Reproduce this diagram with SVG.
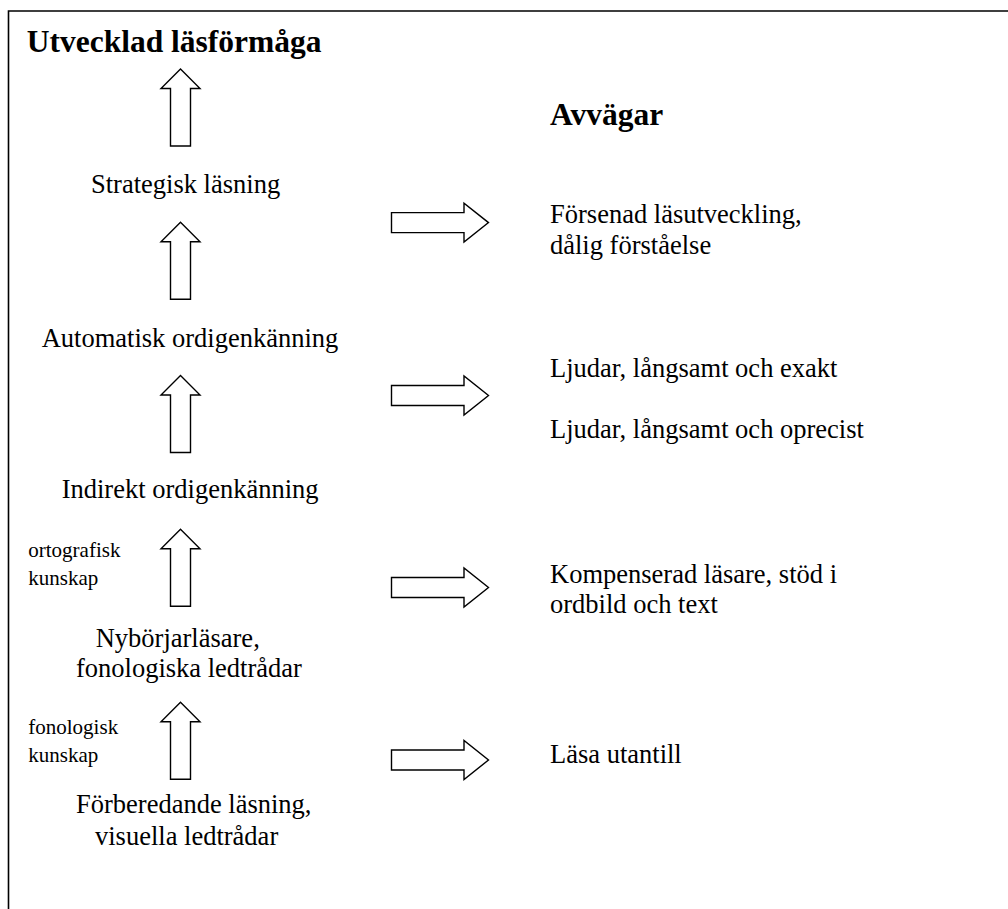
<svg xmlns="http://www.w3.org/2000/svg" width="1008" height="909" viewBox="0 0 1008 909">
<defs>
<style>
.t{font-family:"Liberation Serif","Times New Roman",serif;font-size:26.5px;fill:#000}
.b{font-family:"Liberation Serif","Times New Roman",serif;font-size:31.5px;font-weight:bold;fill:#000}
.s{font-family:"Liberation Serif","Times New Roman",serif;font-size:21px;fill:#000}
.ar{fill:#fff;stroke:#000;stroke-width:1.4;stroke-linejoin:miter}
</style>
<path id="up" d="M0 0 L19.5 19.5 L10 19.5 L10 77 L-10 77 L-10 19.5 L-19.5 19.5 Z"/>
<path id="rt" d="M0 -10 L72.5 -10 L72.5 -19.5 L97 0 L72.5 19.5 L72.5 10 L0 10 Z"/>
</defs>
<rect width="1008" height="909" fill="#fff"/>
<path d="M8.5 909 V11 H1008" fill="none" stroke="#000" stroke-width="1.6"/>
<g id="connectors">
<use href="#up" class="ar" x="180.5" y="69"/>
<use href="#up" class="ar" x="180.5" y="222.3"/>
<use href="#up" class="ar" x="180.5" y="375.5"/>
<use href="#up" class="ar" x="180.5" y="529.3"/>
<use href="#up" class="ar" x="180.5" y="702.3"/>
<use href="#rt" class="ar" x="391.5" y="222.6"/>
<use href="#rt" class="ar" x="391.5" y="395.5"/>
<use href="#rt" class="ar" x="391.5" y="587.5"/>
<use href="#rt" class="ar" x="391.5" y="760"/>
</g>
<g id="title"><text class="b" x="26.7" y="52">Utvecklad läsförmåga</text></g>
<g id="strategisk"><text class="t" x="91" y="193">Strategisk läsning</text></g>
<g id="automatisk"><text class="t" x="41.7" y="346.7">Automatisk ordigenkänning</text></g>
<g id="indirekt"><text class="t" x="61.7" y="498">Indirekt ordigenkänning</text></g>
<g id="ortografisk"><text class="s" x="28.3" y="556.7">ortografisk</text><text class="s" x="28.3" y="585">kunskap</text></g>
<g id="nyborjar"><text class="t" x="95.7" y="647.3">Nybörjarläsare,</text><text class="t" x="76" y="677.3">fonologiska ledtrådar</text></g>
<g id="fonologisk"><text class="s" x="28.3" y="734">fonologisk</text><text class="s" x="28.3" y="762">kunskap</text></g>
<g id="forberedande"><text class="t" x="76" y="813.3">Förberedande läsning,</text><text class="t" x="95" y="845">visuella ledtrådar</text></g>
<g id="avvagar"><text class="b" x="550" y="125">Avvägar</text></g>
<g id="forsenad"><text class="t" x="550" y="223">Försenad läsutveckling,</text><text class="t" x="550" y="254">dålig förståelse</text></g>
<g id="exakt"><text class="t" x="550" y="376.7">Ljudar, långsamt och exakt</text></g>
<g id="oprecist"><text class="t" x="550" y="438.3">Ljudar, långsamt och oprecist</text></g>
<g id="kompenserad"><text class="t" x="550" y="583">Kompenserad läsare, stöd i</text><text class="t" x="550" y="613">ordbild och text</text></g>
<g id="utantill"><text class="t" x="550" y="763">Läsa utantill</text></g>
</svg>
